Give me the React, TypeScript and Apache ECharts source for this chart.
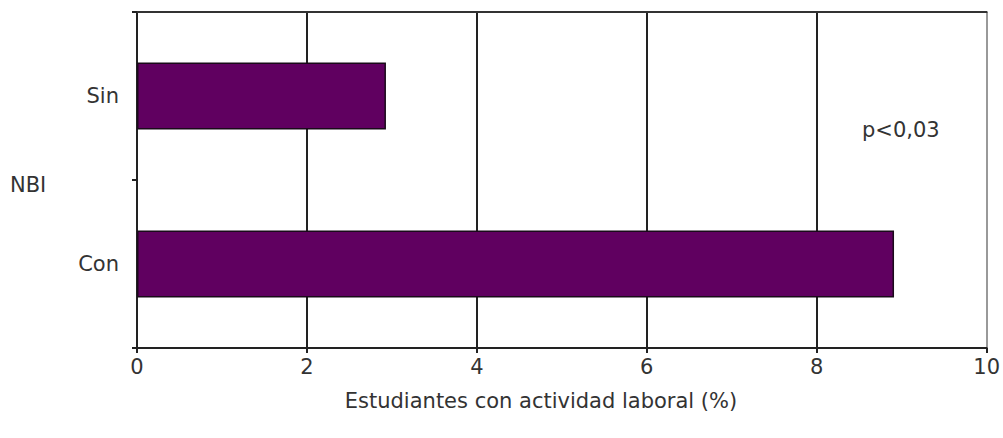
import React, { useEffect, useRef } from "react";
import * as echarts from "echarts";

const categories = ["Sin", "Con"];
const values = [2.93, 8.91];
const xTicks = [0, 2, 4, 6, 8, 10];
const xAxisTitle = "Estudiantes con actividad laboral (%)";
const yAxisTitle = "NBI";
const annotation = "p<0,03";

export default function App() {
  const ref = useRef<HTMLDivElement>(null);
  useEffect(() => {
    if (!ref.current) return;
    const chart = echarts.init(ref.current, null, { renderer: "svg" });
    const font = "DejaVu Sans, Verdana, sans-serif";
    const fs = 21;
    chart.setOption({
      animation: false,
      backgroundColor: "#ffffff",
      textStyle: { fontFamily: font },
      grid: { left: 137, right: 12, top: 12, bottom: 90, containLabel: false },
      xAxis: [
        {
          type: "value",
          min: xTicks[0],
          max: xTicks[xTicks.length - 1],
          interval: 2,
          position: "bottom",
          axisLine: { show: true, lineStyle: { color: "#222", width: 2 } },
          axisTick: { show: true, length: 5, lineStyle: { color: "#222", width: 2 } },
          axisLabel: { fontSize: fs, color: "#333", margin: 8, fontFamily: font },
          splitLine: {
            show: true,
            lineStyle: { color: ["#222", "#222", "#222", "#222", "#222", "#999"], width: 2 },
          },
        },
        {
          type: "value",
          min: xTicks[0],
          max: xTicks[xTicks.length - 1],
          interval: 2,
          position: "top",
          axisLine: { show: true, lineStyle: { color: "#333", width: 2 } },
          axisTick: { show: false },
          axisLabel: { show: false },
          splitLine: { show: false },
        },
      ],
      yAxis: {
        type: "category",
        data: categories,
        inverse: true,
        axisLine: { show: true, lineStyle: { color: "#222", width: 2 } },
        axisTick: { show: true, length: 5, alignWithLabel: false, lineStyle: { color: "#222", width: 2 } },
        axisLabel: { fontSize: fs, color: "#333", margin: 18, fontFamily: font },
        splitLine: { show: false },
      },
      series: [
        {
          type: "bar",
          data: values,
          xAxisIndex: 0,
          barCategoryGap: "60%",
          itemStyle: { color: "#600060", borderColor: "#1a0a1a", borderWidth: 1.5 },
        },
      ],
      graphic: [
        {
          type: "text",
          left: 10,
          top: 174,
          style: { text: yAxisTitle, fontSize: fs, fill: "#333", fontFamily: font },
        },
        {
          type: "text",
          left: 862,
          top: 119,
          style: { text: annotation, fontSize: fs, fill: "#333", fontFamily: font },
        },
        {
          type: "text",
          x: 541,
          y: 401,
          style: {
            text: xAxisTitle,
            fontSize: fs,
            fill: "#333",
            fontFamily: font,
            align: "center",
            verticalAlign: "middle",
          },
        },
      ],
    });
    return () => chart.dispose();
  }, []);
  return (
    <div
      ref={ref}
      style={{ position: "fixed", left: 0, top: 0, width: 1003, height: 438 }}
    />
  );
}
